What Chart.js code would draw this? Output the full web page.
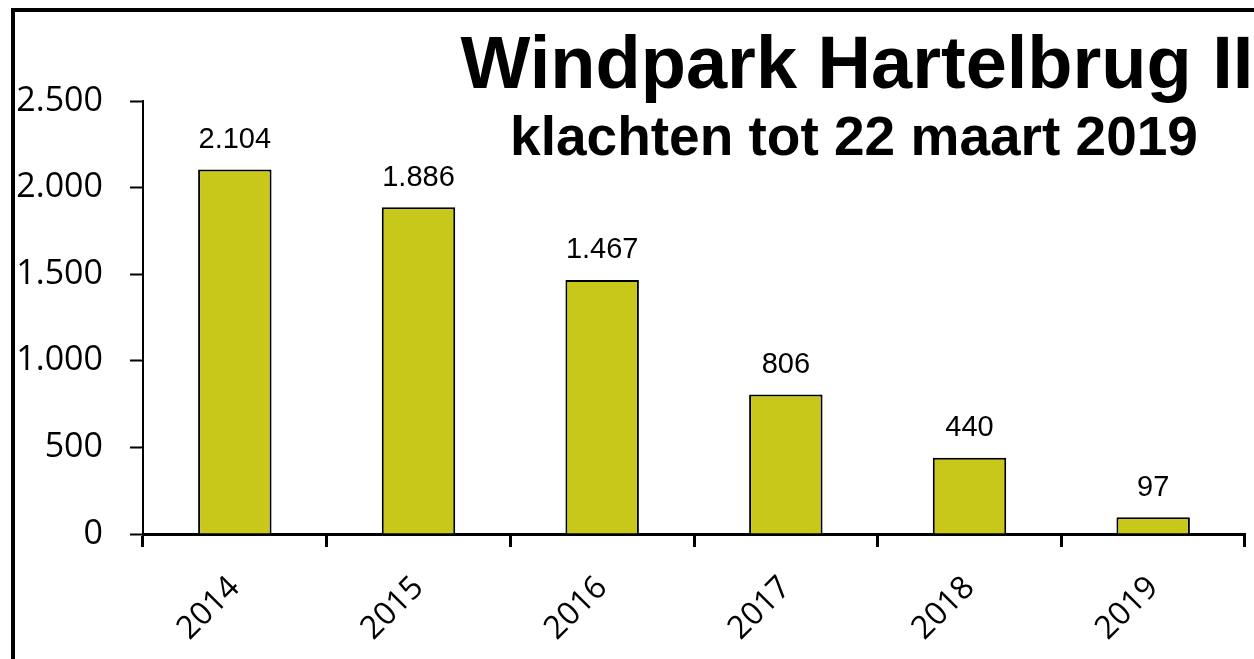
<!DOCTYPE html>
<html lang="nl">
<head>
<meta charset="utf-8">
<title>Windpark Hartelbrug II - klachten</title>
<script src="https://cdn.jsdelivr.net/npm/chart.js@4.4.1/dist/chart.umd.min.js"></script>
<style>
  html, body { margin: 0; padding: 0; background: #fff; }
  #wrap { width: 1254px; height: 659px; position: relative; }
</style>
</head>
<body>
<div id="wrap"><canvas id="klachtenChart"></canvas></div>
<script>
// ---- data ----
const jaren = ['2014', '2015', '2016', '2017', '2018', '2019'];
const klachten = [2104, 1886, 1467, 806, 440, 97];
const yTicks = [0, 500, 1000, 1500, 2000, 2500];

const titel = 'Windpark Hartelbrug II';
const subtitel = 'klachten tot 22 maart 2019';

// Dutch thousands separator: 2104 -> "2.104"
function nlNumber(v) {
    return String(v).replace(/\B(?=(\d{3})+(?!\d))/g, '.');
}

// white background + the black frame that runs off the right/bottom edge
const framePlugin = {
    id: 'frame',
    beforeDraw(chart) {
        const ctx = chart.ctx;
        ctx.save();
        ctx.fillStyle = '#fff';
        ctx.fillRect(0, 0, chart.width, chart.height);
        ctx.fillStyle = '#000';
        ctx.fillRect(11, 8, chart.width, 4);
        ctx.fillRect(11, 8, 4, chart.height);
        ctx.restore();
    }
};

// value above every bar
const valueLabels = {
    id: 'valueLabels',
    afterDatasetsDraw(chart) {
        const ctx = chart.ctx;
        const meta = chart.getDatasetMeta(0);
        ctx.save();
        ctx.font = '29px "Liberation Sans", Arial, sans-serif';
        ctx.fillStyle = '#000';
        ctx.textAlign = 'center';
        ctx.textBaseline = 'bottom';
        meta.data.forEach((bar, i) => {
            ctx.fillText(nlNumber(klachten[i]), bar.x, bar.y - 15);
        });
        ctx.restore();
    }
};

// two-line title, placed off-centre like the original
const titlePlugin = {
    id: 'titles',
    afterDraw(chart) {
        const ctx = chart.ctx;
        ctx.save();
        ctx.fillStyle = '#000';
        ctx.textAlign = 'center';
        ctx.textBaseline = 'alphabetic';
        ctx.font = 'bold 74px "Liberation Sans", Arial, sans-serif';
        ctx.fillText(titel, 857, 88);
        ctx.font = 'bold 55px "Liberation Sans", Arial, sans-serif';
        ctx.fillText(subtitel, 854, 155);
        ctx.restore();
    }
};

new Chart(document.getElementById('klachtenChart'), {
    type: 'bar',
    data: {
        labels: jaren,
        datasets: [{
            data: klachten,
            backgroundColor: '#c8c81a',
            borderColor: '#000',
            borderWidth: 2,
            barPercentage: 0.4,
            categoryPercentage: 1.0
        }]
    },
    options: {
        responsive: true,
        maintainAspectRatio: false,
        animation: false,
        devicePixelRatio: 1,
        layout: { padding: { top: 101, right: 9, bottom: 0, left: 0 } },
        plugins: {
            legend: { display: false },
            title: { display: false },
            tooltip: { enabled: false }
        },
        scales: {
            x: {
                afterFit(scale) { scale.height = 125; },
                grid: {
                    drawOnChartArea: false,
                    drawTicks: true,
                    tickLength: 13,
                    tickWidth: 3,
                    tickColor: '#000'
                },
                border: { display: true, color: '#000', width: 3 },
                ticks: {
                    color: '#000',
                    font: { family: '"Open Sans", "Noto Sans", sans-serif', size: 32 },
                    minRotation: 45,
                    maxRotation: 45,
                    padding: 22
                }
            },
            y: {
                min: yTicks[0],
                max: yTicks[yTicks.length - 1],
                afterFit(scale) { scale.width = 143; },
                afterBuildTicks(scale) {
                    scale.ticks = yTicks.map(v => ({ value: v }));
                },
                grid: {
                    drawOnChartArea: false,
                    drawTicks: true,
                    tickLength: 13,
                    tickWidth: 2,
                    tickColor: '#000'
                },
                border: { display: true, color: '#000', width: 2 },
                ticks: {
                    color: '#000',
                    font: { family: '"Open Sans", "Noto Sans", sans-serif', size: 34 },
                    padding: 27,
                    callback: v => nlNumber(v)
                }
            }
        }
    },
    plugins: [framePlugin, valueLabels, titlePlugin]
});
</script>
</body>
</html>
